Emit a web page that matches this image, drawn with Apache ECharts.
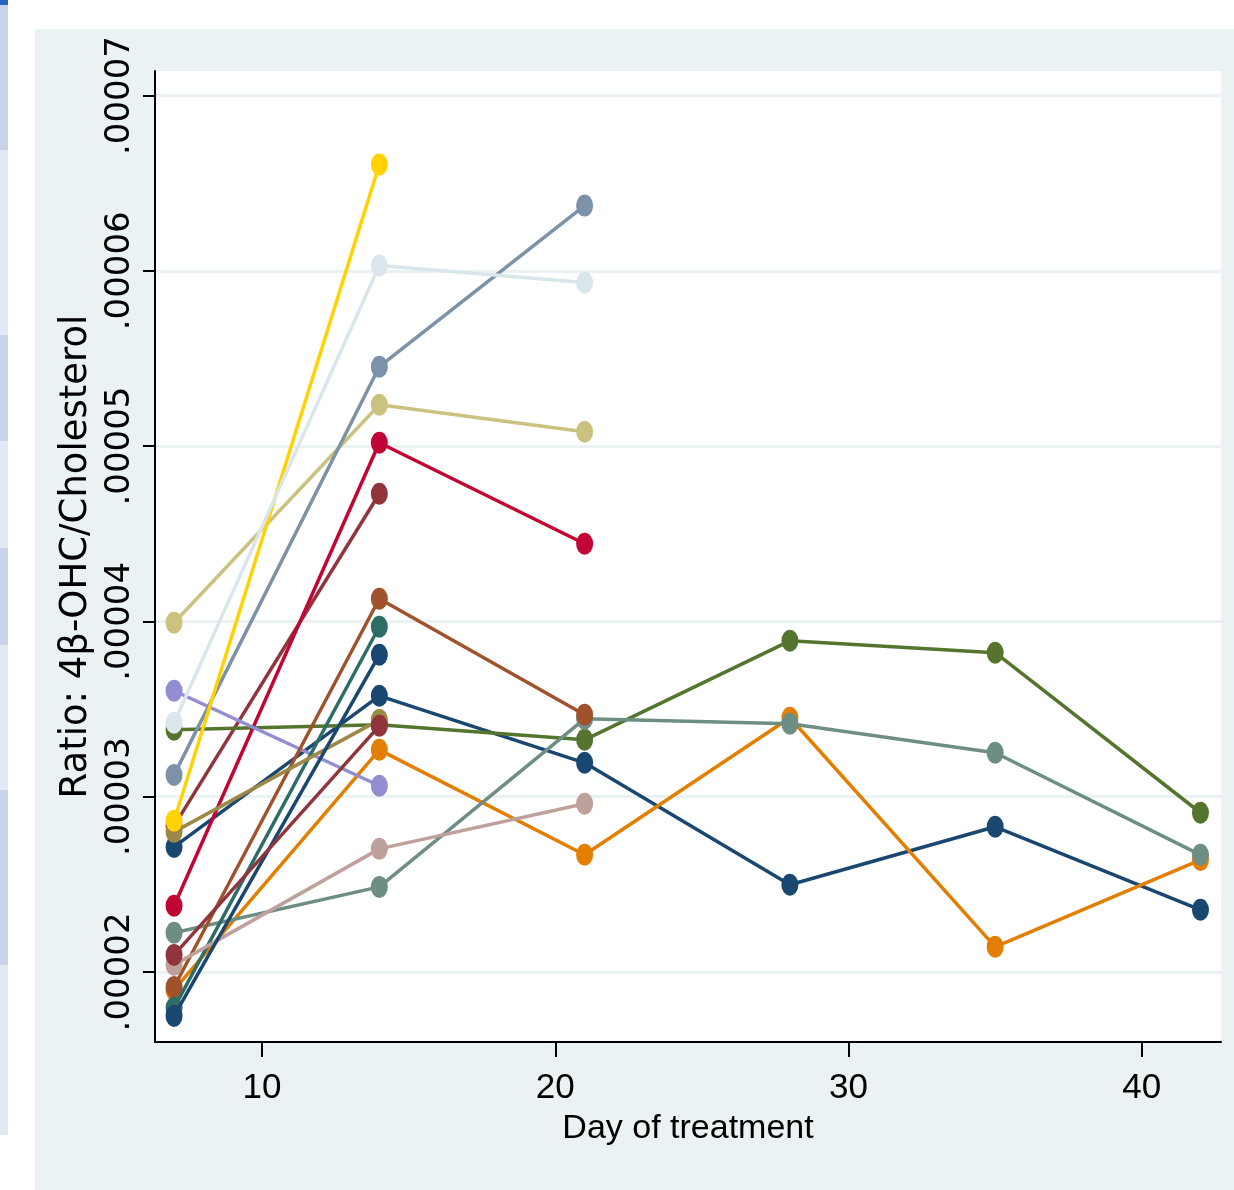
<!DOCTYPE html>
<html>
<head>
<meta charset="utf-8">
<script src="https://cdn.jsdelivr.net/npm/echarts@6/dist/echarts.min.js"></script>
<style>
  html, body { margin: 0; padding: 0; background: #fff; }
  #chart { width: 1234px; height: 1190px; }
</style>
</head>
<body>
<div id="chart"></div>
<script>
// day of treatment for each visit
const days = [7, 14, 21, 28, 35, 42];

// ratio 4b-OHC / cholesterol, one array per patient
const p01 = [2.713e-5, 3.575e-5, 3.193e-5, 2.497e-5, 2.828e-5, 2.354e-5];
const p02 = [2.833e-5, 4.728e-5];
const p03 = [3.381e-5, 3.410e-5, 3.324e-5, 3.889e-5, 3.821e-5, 2.908e-5];
const p04 = [1.897e-5, 3.267e-5, 2.668e-5, 3.450e-5, 2.143e-5, 2.639e-5];
const p05 = [2.223e-5, 2.485e-5, 3.444e-5, 3.416e-5, 3.250e-5, 2.668e-5];
const p06 = [2.377e-5, 5.019e-5, 4.443e-5];
const p07 = [3.604e-5, 3.062e-5];
const p08 = [3.992e-5, 5.236e-5, 5.082e-5];
const p09 = [1.914e-5, 4.129e-5, 3.467e-5];
const p10 = [3.124e-5, 5.453e-5, 6.372e-5];
const p11 = [1.795e-5, 3.969e-5];
const p12 = [2.799e-5, 3.438e-5];
const p13 = [2.040e-5, 2.702e-5, 2.959e-5];
const p14 = [2.862e-5, 6.606e-5];
const p15 = [3.421e-5, 6.030e-5, 5.933e-5];
const p16 = [1.749e-5, 3.809e-5];
const p17 = [2.097e-5, 3.404e-5];

const patients = [p01, p02, p03, p04, p05, p06, p07, p08, p09, p10, p11, p12, p13, p14, p15, p16, p17];

const xTicks = [10, 20, 30, 40];
const yTicks = [2e-5, 3e-5, 4e-5, 5e-5, 6e-5, 7e-5];
const yTickLabels = ['.00002', '.00003', '.00004', '.00005', '.00006', '.00007'];

// stata s2color
const palette = ['#1a476f', '#90353b', '#55752f', '#e37e00', '#6e8e84', '#c10534', '#938dd2', '#cac27e',
  '#a0522d', '#7b92a8', '#2d6d66', '#9c8847', '#bfa19c', '#ffd200', '#d9e6eb', '#1a476f', '#90353b'];

const chart = echarts.init(document.getElementById('chart'), null, { renderer: 'canvas' });

const series = patients.map((vals, i) => ({
  type: 'line',
  data: vals.map((v, j) => [days[j], v]),
  symbol: 'circle',
  symbolSize: [17, 22],
  showSymbol: true,
  lineStyle: { color: palette[i], width: 3.5 },
  itemStyle: { color: palette[i] },
  z: 2 + i,
  animation: false
}));

// left strip from the screenshot
const strip = [
  [5, 145, '#c9d3eb'], [150, 185, '#e3e8f5'], [335, 106, '#c9d3eb'], [441, 107, '#e3e8f5'],
  [548, 97, '#c9d3eb'], [645, 145, '#e3e8f5'], [790, 175, '#c9d3eb'], [965, 170, '#e3e8f5']
];
const stripRects = strip.map(s => ({
  type: 'rect', silent: true, z: -10,
  shape: { x: 0, y: s[0], width: 8, height: s[1] },
  style: { fill: s[2] }
}));

chart.setOption({
  backgroundColor: '#ffffff',
  animation: false,
  graphic: [
    { type: 'rect', silent: true, z: -20, shape: { x: 35, y: 29, width: 1199, height: 1161 }, style: { fill: '#eaf2f3' } },
    { type: 'rect', silent: true, z: -10, shape: { x: 0, y: 0, width: 8, height: 5 }, style: { fill: '#2a62c8' } }
  ].concat(stripRects),
  grid: {
    left: 155, right: 13, top: 71, bottom: 148,
    show: true, backgroundColor: '#ffffff', borderWidth: 0
  },
  xAxis: {
    type: 'value',
    min: 6.35, max: 42.7,
    name: 'Day of treatment',
    nameLocation: 'middle',
    nameGap: 70,
    nameTextStyle: { fontFamily: 'Liberation Sans, Arial', fontSize: 34, color: '#000' },
    axisLine: { show: true, onZero: false, lineStyle: { color: '#000', width: 2 } },
    axisTick: { show: true, length: 15, lineStyle: { color: '#000', width: 2 }, customValues: xTicks },
    axisLabel: { margin: 29, fontFamily: 'Liberation Sans, Arial', fontSize: 35, color: '#000', customValues: xTicks },
    splitLine: { show: false }
  },
  yAxis: {
    type: 'value',
    min: 1.6e-5, max: 7.14e-5,
    name: 'Ratio: 4β-OHC/Cholesterol',
    nameLocation: 'middle',
    nameGap: 48,
    nameTextStyle: { fontFamily: 'DejaVu Sans', fontSize: 37, color: '#000' },
    axisLine: { show: true, onZero: false, lineStyle: { color: '#000', width: 2 } },
    axisTick: { show: true, length: 12, lineStyle: { color: '#000', width: 2 }, customValues: yTicks },
    axisLabel: {
      rotate: 90, margin: 18, fontFamily: 'DejaVu Sans', fontSize: 34, color: '#000',
      customValues: yTicks,
      formatter: v => {
        let k = 0;
        yTicks.forEach((t, i) => { if (Math.abs(t - v) < Math.abs(yTicks[k] - v)) k = i; });
        return yTickLabels[k];
      }
    },
    splitLine: { show: true, lineStyle: { color: '#eaf2f3', width: 3 } }
  },
  series: series
});
</script>
</body>
</html>
